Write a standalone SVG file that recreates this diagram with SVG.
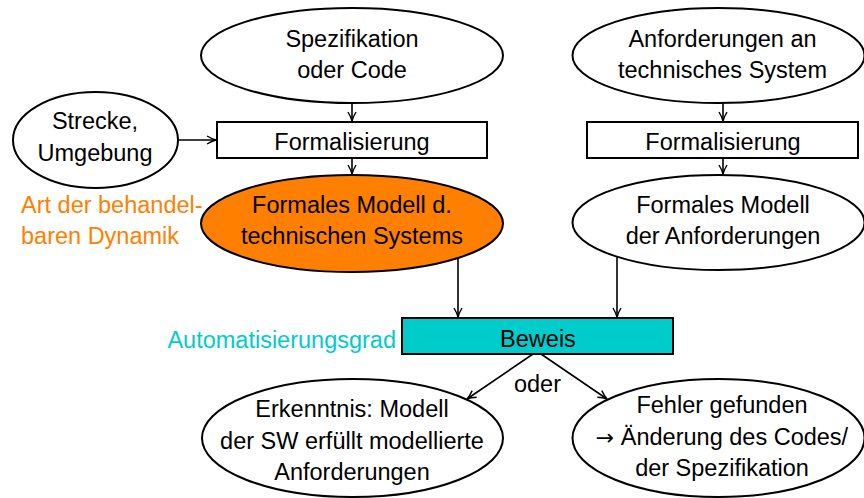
<svg xmlns="http://www.w3.org/2000/svg" width="864" height="498" viewBox="0 0 864 498">
  <defs>
    <style>
      text { font-family: "Liberation Sans", Arial, sans-serif; font-size: 23.5px; fill: #000; text-anchor: middle; }
      .sym { font-family: "DejaVu Sans", sans-serif; font-size: 22px; }
      .shape { fill: #fff; stroke: #000; stroke-width: 2; }
      .orange { fill: #ff8000; }
      .cyan { fill: #00cccc; }
      .note-orange { fill: #ff8000; text-anchor: start; }
      .note-cyan { fill: #00cccc; text-anchor: end; }
      .edge { fill: none; stroke: #000; stroke-width: 1.6; marker-end: url(#arrow); }
    </style>
    <marker id="arrow" markerUnits="userSpaceOnUse" markerWidth="14" markerHeight="12" viewBox="-11 -6 12 12" refX="0" refY="0" orient="auto">
      <path d="M-9,-4 Q-4,-1 0,0 Q-4,1 -9,4" fill="none" stroke="#000" stroke-width="1.4"/>
    </marker>
  </defs>

  <!-- connectors -->
  <g id="connectors">
    <line class="edge" x1="352" y1="103" x2="352" y2="121"/>
    <line class="edge" x1="352" y1="158" x2="352" y2="174"/>
    <line class="edge" x1="723" y1="103" x2="723" y2="121"/>
    <line class="edge" x1="723" y1="158" x2="723" y2="174"/>
    <line class="edge" x1="178" y1="140" x2="216" y2="140"/>
    <line class="edge" x1="458" y1="258" x2="458" y2="317"/>
    <line class="edge" x1="617" y1="257" x2="617" y2="317"/>
    <line class="edge" x1="533" y1="354" x2="467" y2="399"/>
    <line class="edge" x1="541" y1="354" x2="607" y2="399"/>
  </g>

  <!-- top left: source of the model -->
  <g id="spec">
    <ellipse class="shape" cx="352" cy="55.5" rx="151" ry="47.5"/>
    <text x="352" y="47">Spezifikation<tspan x="352" y="78">oder Code</tspan></text>
  </g>

  <!-- top right: requirements -->
  <g id="requirements">
    <ellipse class="shape" cx="718.5" cy="55.5" rx="146" ry="47.5"/>
    <text x="722.5" y="47">Anforderungen an<tspan x="722.5" y="78">technisches System</tspan></text>
  </g>

  <!-- plant / environment -->
  <g id="environment">
    <ellipse class="shape" cx="95.5" cy="140" rx="82.5" ry="48"/>
    <text x="95" y="129">Strecke,<tspan x="95" y="161">Umgebung</tspan></text>
  </g>

  <g id="formalize-left">
    <rect class="shape" x="217" y="122" width="270" height="36"/>
    <text x="352" y="150">Formalisierung</text>
  </g>

  <g id="formalize-right">
    <rect class="shape" x="587" y="122" width="271" height="36"/>
    <text x="723" y="150">Formalisierung</text>
  </g>

  <g id="system-model">
    <ellipse class="shape orange" cx="352" cy="223.5" rx="151" ry="48.5"/>
    <text x="352" y="213">Formales Modell d.<tspan x="352" y="244">technischen Systems</tspan></text>
  </g>

  <g id="requirements-model">
    <ellipse class="shape" cx="718.5" cy="222.5" rx="146" ry="47.5"/>
    <text x="723" y="213">Formales Modell<tspan x="723" y="244">der Anforderungen</tspan></text>
  </g>

  <g id="proof">
    <rect class="shape cyan" x="402" y="318" width="271" height="36"/>
    <text x="538" y="347">Beweis</text>
  </g>

  <g id="result-ok">
    <ellipse class="shape" cx="352.5" cy="438" rx="150.5" ry="59"/>
    <text x="352" y="417">Erkenntnis: Modell<tspan x="352" y="448.5">der SW erfüllt modellierte</tspan><tspan x="352" y="480">Anforderungen</tspan></text>
  </g>

  <g id="result-error">
    <ellipse class="shape" cx="718.5" cy="438" rx="146" ry="59"/>
    <text x="722" y="413">Fehler gefunden</text>
    <text x="722" y="445"><tspan class="sym">→</tspan> Änderung des Codes/</text>
    <text x="722" y="476">der Spezifikation</text>
  </g>

  <!-- annotations -->
  <g id="annotations">
    <text class="note-orange" x="21" y="213">Art der behandel-<tspan x="21" y="243.5">baren Dynamik</tspan></text>
    <text class="note-cyan" x="396" y="348">Automatisierungsgrad</text>
    <text x="537.5" y="392">oder</text>
  </g>
</svg>
